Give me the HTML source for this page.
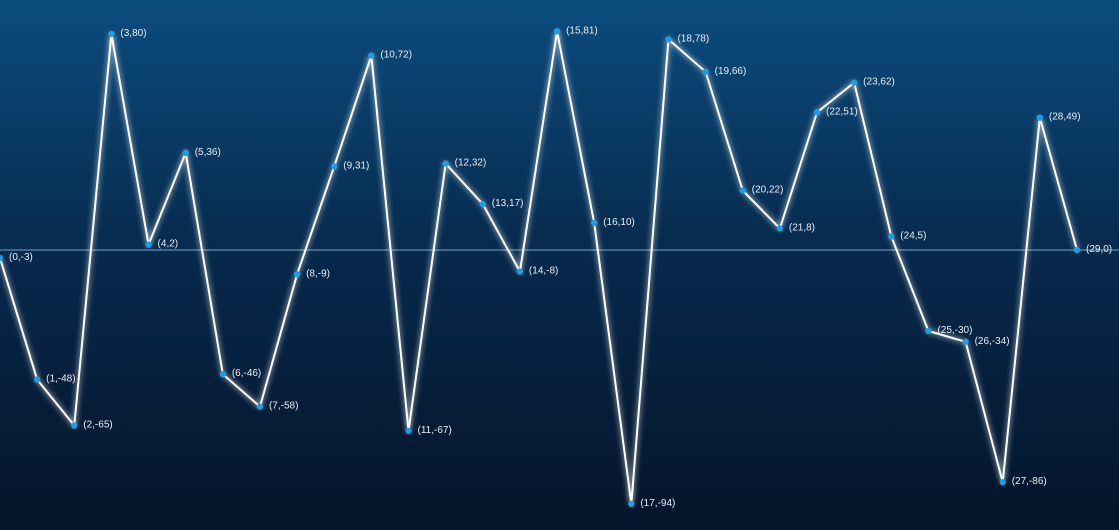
<!DOCTYPE html>
<html><head><meta charset="utf-8">
<style>
html,body{margin:0;padding:0;width:1119px;height:530px;overflow:hidden;background:#071a31;}
svg{display:block}
text{font-family:"Liberation Sans",sans-serif;font-size:10px;fill:#e6eef6;}
</style></head>
<body>
<svg id="chart" width="1119" height="530" viewBox="0 0 1119 530">
<defs>
<linearGradient id="bg" x1="0" y1="0" x2="0" y2="1">
<stop offset="0" stop-color="#0b4c7e"/>
<stop offset="0.5" stop-color="#07284a"/>
<stop offset="1" stop-color="#05142a"/>
</linearGradient>
<filter id="glow" x="-5%" y="-5%" width="110%" height="110%">
<feGaussianBlur stdDeviation="3" result="b"/>
<feMerge><feMergeNode in="b"/><feMergeNode in="SourceGraphic"/></feMerge>
</filter>
</defs>
<rect x="0" y="0" width="1119" height="530" fill="url(#bg)"/>
<g id="plot"></g>
</svg>
<script>
const xValues = [0,1,2,3,4,5,6,7,8,9,10,11,12,13,14,15,16,17,18,19,20,21,22,23,24,25,26,27,28,29];
const yValues = [-3,-48,-65,80,2,36,-46,-58,-9,31,72,-67,32,17,-8,81,10,-94,78,66,22,8,51,62,5,-30,-34,-86,49,0];

const NS = "http://www.w3.org/2000/svg";
const plot = document.getElementById("plot");
function xs(v){ return v * (1077/29); }
function ys(v){ return 250 - v * 2.7; }

const zero = document.createElementNS(NS,"line");


zero.setAttribute("x1",0); zero.setAttribute("x2",1119);
zero.setAttribute("y1",ys(0)); zero.setAttribute("y2",ys(0));
zero.setAttribute("stroke","#8cc4e8"); zero.setAttribute("stroke-width","1"); zero.setAttribute("opacity","0.8");
plot.appendChild(zero);

const pts = xValues.map((x,i)=>xs(x).toFixed(2)+","+ys(yValues[i]).toFixed(2)).join(" ");
const line = document.createElementNS(NS,"polyline");


line.setAttribute("points",pts);
line.setAttribute("fill","none"); line.setAttribute("stroke","#ffffff");
line.setAttribute("stroke-width","2"); line.setAttribute("filter","url(#glow)");
plot.appendChild(line);

xValues.forEach((x,i)=>{
  const c = document.createElementNS(NS,"circle");
  
  
  c.setAttribute("cx",xs(x)); c.setAttribute("cy",ys(yValues[i]));
  c.setAttribute("r","3.2"); c.setAttribute("fill","#1e9de6");
  plot.appendChild(c);
  const t = document.createElementNS(NS,"text");
  
  
  t.setAttribute("x",xs(x)+9); t.setAttribute("y",ys(yValues[i])+2);
  t.textContent = "("+x+","+yValues[i]+")";
  plot.appendChild(t);
});
</script>
</body></html>
